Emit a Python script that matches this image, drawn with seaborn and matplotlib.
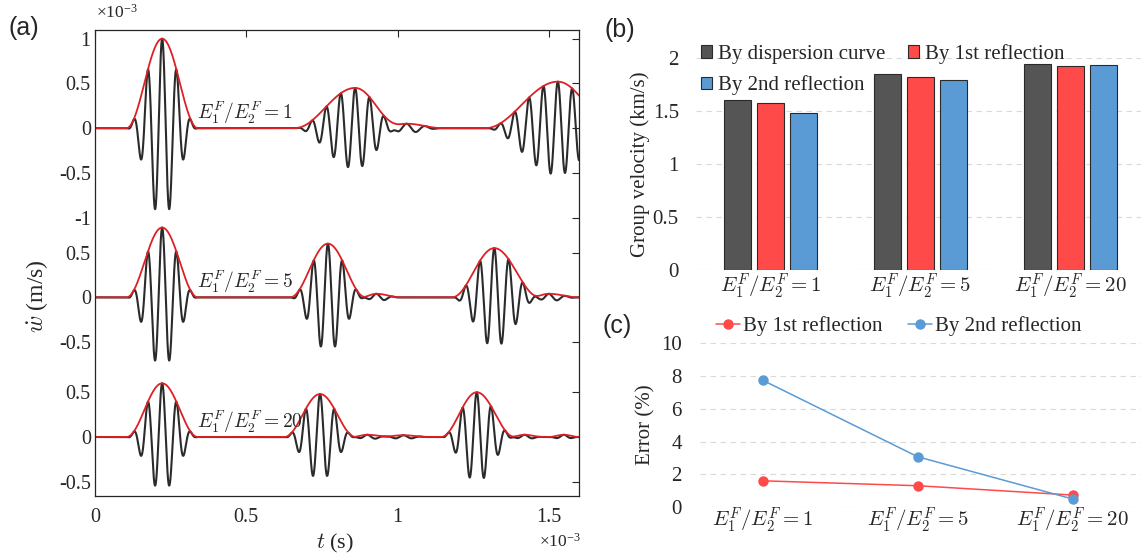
import numpy as np
import pandas as pd
import matplotlib
matplotlib.use('Agg')
import matplotlib.pyplot as plt
import seaborn as sns
from matplotlib.patches import Patch
from matplotlib.lines import Line2D
from matplotlib.font_manager import FontProperties

# ---------------- Panel (a) data (time in 1e-3 s, velocity in 1e-3 m/s) ----------------
ratio_labels = [r'$E_1^F/E_2^F=1$', r'$E_1^F/E_2^F=5$', r'$E_1^F/E_2^F=20$']
trace_offsets = [3.45, 1.56, 0.0]
# wave packets of each trace: centre time, peak envelope, left / right half-duration, carrier freq (cycles per 1e-3 s)
packet_center = [[0.222, 0.86, 1.03, 1.53],
                 [0.222, 0.77, 0.93, 1.32, 1.50],
                 [0.222, 0.744, 0.90, 1.02, 1.262, 1.42, 1.55]]
packet_amp = [[1.00, 0.45, 0.05, 0.52],
              [0.78, 0.60, 0.04, 0.55, 0.04],
              [0.60, 0.48, 0.025, 0.02, 0.50, 0.025, 0.025]]
packet_wl = [[0.118, 0.20, 0.10, 0.24],
             [0.118, 0.125, 0.05, 0.14, 0.06],
             [0.118, 0.118, 0.05, 0.08, 0.118, 0.05, 0.05]]
packet_wr = [[0.118, 0.15, 0.12, 0.19],
             [0.118, 0.125, 0.08, 0.15, 0.10],
             [0.118, 0.118, 0.08, 0.08, 0.125, 0.06, 0.05]]
packet_freq = [[21, 21, 16, 21],
               [21, 21, 18, 21, 18],
               [21, 21, 18, 18, 21, 18, 18]]
ytick_pos_rel = [[1, 0.5, 0, -0.5, -1], [0.5, 0, -0.5], [0.5, 0, -0.5]]
ytick_text = [['1', '0.5', '0', '-0.5', '-1'], ['0.5', '0', '-0.5'], ['0.5', '0', '-0.5']]
xtick_vals = [0, 0.5, 1, 1.5]
xtick_text = ['0', '0.5', '1', '1.5']

# ---------------- Panel (b) data ----------------
categories = [r'$E_1^F/E_2^F=1$', r'$E_1^F/E_2^F=5$', r'$E_1^F/E_2^F=20$']
methods_b = ['By dispersion curve', 'By 1st reflection', 'By 2nd reflection']
vel_dispersion = [1.605, 1.845, 1.94]
vel_first = [1.58, 1.82, 1.925]
vel_second = [1.48, 1.79, 1.93]

# ---------------- Panel (c) data ----------------
methods_c = ['By 1st reflection', 'By 2nd reflection']
err_first = [1.60, 1.30, 0.73]
err_second = [7.74, 3.07, 0.49]

c_dark, c_red, c_blue = '#555555', '#ff4a4a', '#5b9bd5'
SERIF = ['Liberation Serif', 'DejaVu Serif']
TXT = '#262626'

sns.set_theme(style='white')
plt.rcParams['font.family'] = 'serif'
plt.rcParams['font.serif'] = SERIF
plt.rcParams['mathtext.fontset'] = 'cm'
plt.rcParams['axes.unicode_minus'] = False

W, H = 1141, 556
fig = plt.figure(figsize=(W / 100, H / 100), dpi=100)

def px_axes(l, t, r, b):
    return fig.add_axes([l / W, 1 - b / H, (r - l) / W, (b - t) / H])

def serif_ticks(ax):
    for lab in ax.get_xticklabels() + ax.get_yticklabels():
        lab.set_fontfamily(SERIF)

# ---------------- Panel (a) ----------------
axA = px_axes(95, 30, 579, 496)
t = np.linspace(0, 1.6, 4001)
for k in range(3):
    sig = np.zeros_like(t)
    env = np.zeros_like(t)
    for c, a, wl, wr, f in zip(packet_center[k], packet_amp[k], packet_wl[k], packet_wr[k], packet_freq[k]):
        d = t - c
        w = np.where(d < 0, wl, wr)
        win = np.where(np.abs(d) < w, 0.5 * (1 + np.cos(np.pi * d / w)), 0.0)
        env += a * win
        sig += a * win * np.cos(2 * np.pi * f * d)
    df = pd.DataFrame({'t': t, 'sig': sig + trace_offsets[k], 'env': env + trace_offsets[k]})
    sns.lineplot(data=df, x='t', y='sig', ax=axA, color='#2b2b2b', lw=1.5,
                 estimator=None, errorbar=None, sort=False)
    sns.lineplot(data=df, x='t', y='env', ax=axA, color='#dd2025', lw=1.3,
                 estimator=None, errorbar=None, sort=False)
    axA.text(0.337, trace_offsets[k] + 0.17, ratio_labels[k], fontsize=14, va='center', ha='left')

axA.set_xlim(0, 1.6)
axA.set_ylim(-0.659, 4.547)
yt, yl = [], []
for k in range(3):
    for p, s in zip(ytick_pos_rel[k], ytick_text[k]):
        yt.append(trace_offsets[k] + p)
        yl.append(s)
axA.set_yticks(yt)
axA.set_yticklabels(yl)
axA.set_xticks(xtick_vals)
axA.set_xticklabels(xtick_text)
axA.set_xlabel('')
axA.set_ylabel('')
axA.tick_params(direction='in', top=True, right=True, length=5, width=0.8,
                labelsize=14.5, color=TXT, labelcolor=TXT)
axA.tick_params(axis='y', pad=3)
axA.tick_params(axis='x', pad=9)
serif_ticks(axA)
for s in axA.spines.values():
    s.set_visible(True)
    s.set_color(TXT)
    s.set_linewidth(0.9)

fig.text(37 / W, 1 - 296 / H, r'$\dot{w}$ (m/s)', rotation=90, fontsize=17,
         ha='center', va='center', color=TXT)
fig.text(335 / W, 1 - 543 / H, r'$t$ (s)', fontsize=16, ha='center', va='center', color=TXT)
fig.text(96 / W, 1 - 13 / H, r'$\mathregular{\times10^{-3}}$', fontsize=12.5, ha='left', va='center', color=TXT)
fig.text(581 / W, 1 - 542 / H, r'$\mathregular{\times10^{-3}}$', fontsize=12.5, ha='right', va='center', color=TXT)
fig.text(8 / W, 1 - 28 / H, '(a)', fontsize=18, family='Liberation Sans', ha='left', va='center')

# ---------------- Panel (b) ----------------
axB = px_axes(695.5, 58, 1145, 270)
dfB = pd.DataFrame({
    'cat': categories * 3,
    'method': [methods_b[0]] * 3 + [methods_b[1]] * 3 + [methods_b[2]] * 3,
    'vel': vel_dispersion + vel_first + vel_second,
})
sns.barplot(data=dfB, x='cat', y='vel', hue='method', order=categories, hue_order=methods_b,
            palette=[c_dark, c_red, c_blue], width=0.66, gap=0.18, saturation=1,
            edgecolor='#2a2a2a', linewidth=0.8, ax=axB, legend=False)
axB.set_xlim(-0.5, 2.5)
axB.set_ylim(0, 2.0005)
axB.set_yticks([0, 0.5, 1, 1.5, 2])
axB.set_yticklabels(['0', '0.5', '1', '1.5', '2'])
axB.set_axisbelow(True)
axB.yaxis.grid(True, linestyle=(0, (5, 4)), color='#dadada', linewidth=0.8)
axB.xaxis.grid(False)
for s in axB.spines.values():
    s.set_visible(False)
axB.tick_params(axis='both', length=0, labelsize=15, labelcolor=TXT)
axB.tick_params(axis='y', pad=12)
axB.tick_params(axis='x', pad=1)
serif_ticks(axB)
axB.set_xlabel('')
axB.set_ylabel('Group velocity (km/s)', fontsize=15, color=TXT, labelpad=2, family=SERIF)
handlesB = [Patch(facecolor=c, edgecolor='#2a2a2a', linewidth=0.8) for c in [c_dark, c_red, c_blue]]
axB.legend([handlesB[0], handlesB[2], handlesB[1]],
           [methods_b[0], methods_b[2], methods_b[1]],
           ncol=2, loc='upper left', bbox_to_anchor=(701 / W, 1 - 44 / H),
           bbox_transform=fig.transFigure, frameon=False,
           prop=FontProperties(family=SERIF, size=15),
           handlelength=0.55, handleheight=0.55, handletextpad=0.25,
           columnspacing=1.1, labelspacing=0.55, borderpad=0, borderaxespad=0)
fig.text(604 / W, 1 - 30 / H, '(b)', fontsize=18, family='Liberation Sans', ha='left', va='center')

# ---------------- Panel (c) ----------------
axC = px_axes(700, 343, 1150, 507)
dfC = pd.DataFrame({
    'pos': [0, 1, 2] * 2,
    'method': [methods_c[0]] * 3 + [methods_c[1]] * 3,
    'err': err_first + err_second,
})
sns.lineplot(data=dfC, x='pos', y='err', hue='method', hue_order=methods_c,
             palette=[c_red, c_blue], marker='o', markersize=7.5, markeredgewidth=0,
             linewidth=1.1, ax=axC, legend=False, estimator=None, errorbar=None)
axC.set_xlim(-0.406, 2.5)
axC.set_ylim(0, 10.02)
axC.set_xticks([0, 1, 2])
axC.set_xticklabels(categories)
axC.set_yticks([0, 2, 4, 6, 8, 10])
axC.set_yticklabels(['0', '2', '4', '6', '8', '10'])
axC.set_axisbelow(True)
axC.yaxis.grid(True, linestyle=(0, (5, 4)), color='#dadada', linewidth=0.8)
axC.xaxis.grid(False)
for s in axC.spines.values():
    s.set_visible(False)
axC.tick_params(axis='both', length=0, labelsize=15, labelcolor=TXT)
axC.tick_params(axis='y', pad=13)
axC.tick_params(axis='x', pad=-1)
serif_ticks(axC)
axC.set_xlabel('')
axC.set_ylabel('Error (%)', fontsize=15, color=TXT, labelpad=4, family=SERIF)
handlesC = [Line2D([0], [0], color=c, lw=1.1, marker='o', markersize=7.5, markeredgewidth=0)
            for c in [c_red, c_blue]]
axC.legend(handlesC, methods_c, ncol=2, loc='upper left', bbox_to_anchor=(716 / W, 1 - 316 / H),
           bbox_transform=fig.transFigure, frameon=False,
           prop=FontProperties(family=SERIF, size=15),
           handlelength=1.15, handletextpad=0.15, columnspacing=1.2, borderpad=0, borderaxespad=0)
fig.text(603 / W, 1 - 326 / H, '(c)', fontsize=18, family='Liberation Sans', ha='left', va='center')

fig.savefig('out.png', dpi=100)
